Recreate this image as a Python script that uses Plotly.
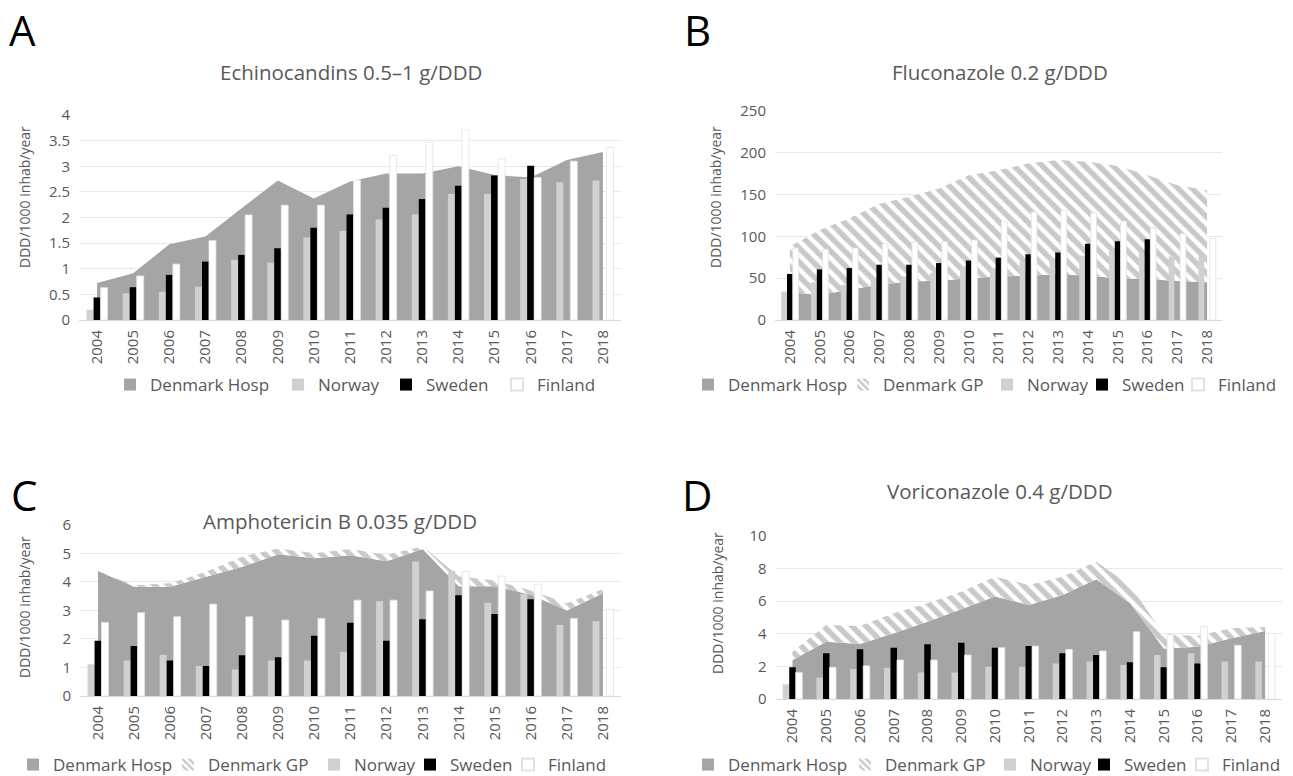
import plotly.graph_objects as go

years = ["2004", "2005", "2006", "2007", "2008", "2009", "2010", "2011",
         "2012", "2013", "2014", "2015", "2016", "2017", "2018"]

# Panel A - Echinocandins
A_hosp = [0.72, 0.91, 1.48, 1.63, 2.18, 2.72, 2.37, 2.70, 2.86, 2.86, 3.00, 2.83, 2.78, 3.12, 3.28]
A_norway = [0.20, 0.52, 0.55, 0.65, 1.17, 1.12, 1.61, 1.74, 1.96, 2.06, 2.46, 2.46, 2.75, 2.69, 2.72]
A_sweden = [0.44, 0.64, 0.88, 1.14, 1.27, 1.40, 1.80, 2.06, 2.19, 2.36, 2.62, 2.82, 3.01, None, None]
A_finland = [0.63, 0.86, 1.09, 1.55, 2.05, 2.24, 2.24, 2.73, 3.21, 3.47, 3.71, 3.14, 2.78, 3.10, 3.37]

# Panel B - Fluconazole
B_hosp = [33, 30, 36, 42, 46, 47, 50, 52, 53, 54.6, 53, 50, 49, 46.6, 45]
B_gp = [55, 77.5, 85.5, 97, 101, 110, 123, 127, 134, 136.4, 136, 134, 124, 114.4, 110]
B_norway = [34, 45, 42, 50, 52, 56.5, 64, 62, 70, 74, 77, 82, 80, 76, 76]
B_sweden = [55, 60.5, 62, 66, 66, 68, 71, 74.5, 78.5, 80.5, 91, 94, 96.4, None, None]
B_finland = [86, 84.5, 86, 91, 93.6, 93.6, 95.6, 118, 129, 131, 128, 118, 110, 103.5, 97.6]

# Panel C - Amphotericin B
C_hosp = [4.38, 3.83, 3.83, 4.18, 4.53, 4.97, 4.83, 4.93, 4.72, 5.15, 3.85, 3.85, 3.55, 3.00, 3.60]
C_gp = [0.00, 0.05, 0.12, 0.18, 0.35, 0.20, 0.17, 0.22, 0.22, 0.10, 0.35, 0.20, 0.15, 0.25, 0.15]
C_norway = [1.11, 1.24, 1.44, 1.05, 0.93, 1.24, 1.24, 1.55, 3.33, 4.71, 4.39, 3.27, 3.58, 2.49, 2.63]
C_sweden = [1.94, 1.75, 1.24, 1.05, 1.43, 1.36, 2.11, 2.57, 1.94, 2.69, 3.53, 2.87, 3.39, None, None]
C_finland = [2.58, 2.92, 2.78, 3.22, 2.78, 2.66, 2.72, 3.36, 3.36, 3.68, 4.36, 4.20, 3.92, 2.72, 3.04]

# Panel D - Voriconazole
D_hosp = [2.39, 3.51, 3.37, 4.02, 4.73, 5.50, 6.27, 5.76, 6.37, 7.33, 5.86, 3.10, 3.20, 3.72, 4.16]
D_gp = [0.50, 1.02, 1.10, 1.23, 1.13, 1.07, 1.22, 1.22, 1.12, 1.08, 1.09, 0.85, 0.68, 0.61, 0.25]
D_norway = [0.90, 1.31, 1.84, 1.92, 1.63, 1.63, 1.98, 1.98, 2.18, 2.29, 2.08, 2.69, 2.80, 2.29, 2.29]
D_sweden = [1.94, 2.80, 3.04, 3.14, 3.35, 3.45, 3.14, 3.24, 2.80, 2.69, 2.25, 1.94, 2.18, None, None]
D_finland = [1.63, 1.94, 2.04, 2.39, 2.39, 2.69, 3.14, 3.24, 3.04, 2.94, 4.12, 3.92, 4.43, 3.29, 4.02]

titles = ["Echinocandins 0.5\u20131 g/DDD", "Fluconazole 0.2 g/DDD",
          "Amphotericin B 0.035 g/DDD", "Voriconazole 0.4 g/DDD"]
letters = ["A", "B", "C", "D"]
ytitle = "DDD/1000 inhab/year"

W, H = 1293, 776
FONT = "Open Sans"
TXT = "#595959"
C_HOSP = "#a5a5a5"
C_NOR = "#d0d0d0"
C_SWE = "#000000"
C_FIN = "#ffffff"
HATCH = dict(shape="\\", fgcolor="#939393", bgcolor="white", size=10, solidity=0.55)
HATCH_LEG = dict(shape="\\", fgcolor="#939393", bgcolor="white", size=6, solidity=0.5)

panels = [
    dict(hosp=A_hosp, gp=None, nor=A_norway, swe=A_sweden, fin=A_finland,
         x0=79, x1=621, ybot=320, ytop=115, yr=[0, 4], dt=0.5,
         title_xy=(351, 72), letter_xy=(22, 30), yt_xy=(24, 197),
         leg_y=385, leg_x=dict(hosp=110, nor=278, swe=386, fin=497)),
    dict(hosp=B_hosp, gp=B_gp, nor=B_norway, swe=B_sweden, fin=B_finland,
         x0=775, x1=1222, ybot=320, ytop=110.7, yr=[0, 250], dt=50,
         title_xy=(1000, 72), letter_xy=(697, 30), yt_xy=(715, 197),
         leg_y=385, leg_x=dict(hosp=688, gp=843, nor=987, swe=1082, fin=1178)),
    dict(hosp=C_hosp, gp=C_gp, nor=C_norway, swe=C_sweden, fin=C_finland,
         x0=80, x1=621, ybot=696, ytop=524.8, yr=[0, 6], dt=1,
         title_xy=(340, 521), letter_xy=(24, 495), yt_xy=(24, 607),
         leg_y=765, leg_x=dict(hosp=13, gp=168, nor=314, swe=410, fin=508)),
    dict(hosp=D_hosp, gp=D_gp, nor=D_norway, swe=D_sweden, fin=D_finland,
         x0=775.6, x1=1282, ybot=699, ytop=535.7, yr=[0, 10], dt=2,
         title_xy=(1000, 491), letter_xy=(697, 495), yt_xy=(717, 603),
         leg_y=765, leg_x=dict(hosp=688, gp=845, nor=990, swe=1084, fin=1182)),
]

fig = go.Figure()
layout = {}
annotations = []
leg_count = [0]


def new_legend(xpix, ypix):
    leg_count[0] += 1
    n = leg_count[0]
    name = "legend" if n == 1 else f"legend{n}"
    layout[name] = dict(orientation="h", x=xpix / W, y=1 - ypix / H,
                        xanchor="left", yanchor="middle", bgcolor="rgba(0,0,0,0)",
                        borderwidth=0, font=dict(family=FONT, size=17, color=TXT),
                        itemsizing="constant", tracegroupgap=0)
    return name


for i, p in enumerate(panels):
    bx = 2 * i + 1
    ox = 2 * i + 2
    xa_b = "x" if bx == 1 else f"x{bx}"
    ya_b = "y" if bx == 1 else f"y{bx}"
    xa_o = f"x{ox}"
    ya_o = f"y{ox}"
    xdom = [p["x0"] / W, p["x1"] / W]
    ydom = [1 - p["ybot"] / H, 1 - p["ytop"] / H]
    lx = p["leg_x"]
    ly = p["leg_y"]

    # Area traces (base subplot, drawn below the bars)
    fig.add_trace(go.Scatter(x=years, y=p["hosp"], name="Denmark Hosp", mode="none",
                             stackgroup=f"s{i}", fillcolor=C_HOSP, xaxis=xa_b, yaxis=ya_b,
                             showlegend=False, hoverinfo="skip"))
    fig.add_trace(go.Bar(x=years, y=[None] * len(years), name="Denmark Hosp",
                         marker_color=C_HOSP, marker_line_width=0, xaxis=xa_b, yaxis=ya_b,
                         legend=new_legend(lx["hosp"], ly)))
    if p["gp"] is not None:
        fig.add_trace(go.Scatter(x=years, y=p["gp"], name="Denmark GP", mode="none",
                                 stackgroup=f"s{i}", fillcolor="white", fillpattern=HATCH,
                                 xaxis=xa_b, yaxis=ya_b, showlegend=False, hoverinfo="skip"))
        fig.add_trace(go.Bar(x=years, y=[None] * len(years), name="Denmark GP",
                             marker=dict(color="white", pattern=HATCH_LEG, line_width=0),
                             xaxis=xa_b, yaxis=ya_b, legend=new_legend(lx["gp"], ly)))
    # Bars (overlay subplot, drawn above the areas)
    fig.add_trace(go.Bar(x=years, y=p["nor"], name="Norway", marker_color=C_NOR,
                         marker_line_width=0, xaxis=xa_o, yaxis=ya_o,
                         legend=new_legend(lx["nor"], ly), offsetgroup="n"))
    fig.add_trace(go.Bar(x=years, y=p["swe"], name="Sweden", marker_color=C_SWE,
                         marker_line_width=0, xaxis=xa_o, yaxis=ya_o,
                         legend=new_legend(lx["swe"], ly), offsetgroup="s"))
    fig.add_trace(go.Bar(x=years, y=p["fin"], name="Finland", marker_color=C_FIN,
                         marker_line=dict(color="#e2e2e2", width=0.8), xaxis=xa_o,
                         yaxis=ya_o, legend=new_legend(lx["fin"], ly), offsetgroup="f"))

    xname_b = "xaxis" if bx == 1 else f"xaxis{bx}"
    yname_b = "yaxis" if bx == 1 else f"yaxis{bx}"
    layout[xname_b] = dict(domain=xdom, type="category", range=[-0.5, 14.5],
                           anchor=ya_b, tickangle=-90, showgrid=False,
                           showline=True, linecolor="#d9d9d9", linewidth=1,
                           ticks="", ticklabelstandoff=3,
                           tickfont=dict(family=FONT, size=15, color=TXT))
    layout[yname_b] = dict(domain=ydom, range=p["yr"], dtick=p["dt"], anchor=xa_b,
                           showgrid=True, gridcolor="#e8e8e8", gridwidth=1,
                           zeroline=False, showline=False, ticks="", ticklabelstandoff=8,
                           tickfont=dict(family=FONT, size=15, color=TXT))
    layout[f"xaxis{ox}"] = dict(domain=xdom, type="category", range=[-0.5, 14.5],
                                overlaying=xa_b, anchor=ya_o, visible=False)
    layout[f"yaxis{ox}"] = dict(domain=ydom, range=p["yr"], overlaying=ya_b,
                                anchor=xa_o, visible=False)

    annotations.append(dict(text=titles[i], x=p["title_xy"][0] / W, y=1 - p["title_xy"][1] / H,
                            xref="paper", yref="paper", showarrow=False, xanchor="center",
                            yanchor="middle", font=dict(family=FONT, size=20.5, color=TXT)))
    annotations.append(dict(text=letters[i], x=p["letter_xy"][0] / W, y=1 - p["letter_xy"][1] / H,
                            xref="paper", yref="paper", showarrow=False, xanchor="center",
                            yanchor="middle", font=dict(family=FONT, size=42, color="#000000")))
    annotations.append(dict(text=ytitle, x=p["yt_xy"][0] / W, y=1 - p["yt_xy"][1] / H,
                            xref="paper", yref="paper", showarrow=False, xanchor="center",
                            yanchor="middle", textangle=-90,
                            font=dict(family=FONT, size=14, color=TXT)))

fig.update_layout(**layout)
fig.update_layout(
    width=W, height=H, margin=dict(l=0, r=0, t=0, b=0, autoexpand=False),
    paper_bgcolor="white", plot_bgcolor="white",
    barmode="group", bargap=0.42, bargroupgap=0,
    annotations=annotations, font=dict(family=FONT, color=TXT),
    hovermode=False,
)

fig.write_html("out.html", config={"displayModeBar": False, "staticPlot": True},
               post_script="document.body.style.margin='0px';document.body.style.overflow='hidden';")
